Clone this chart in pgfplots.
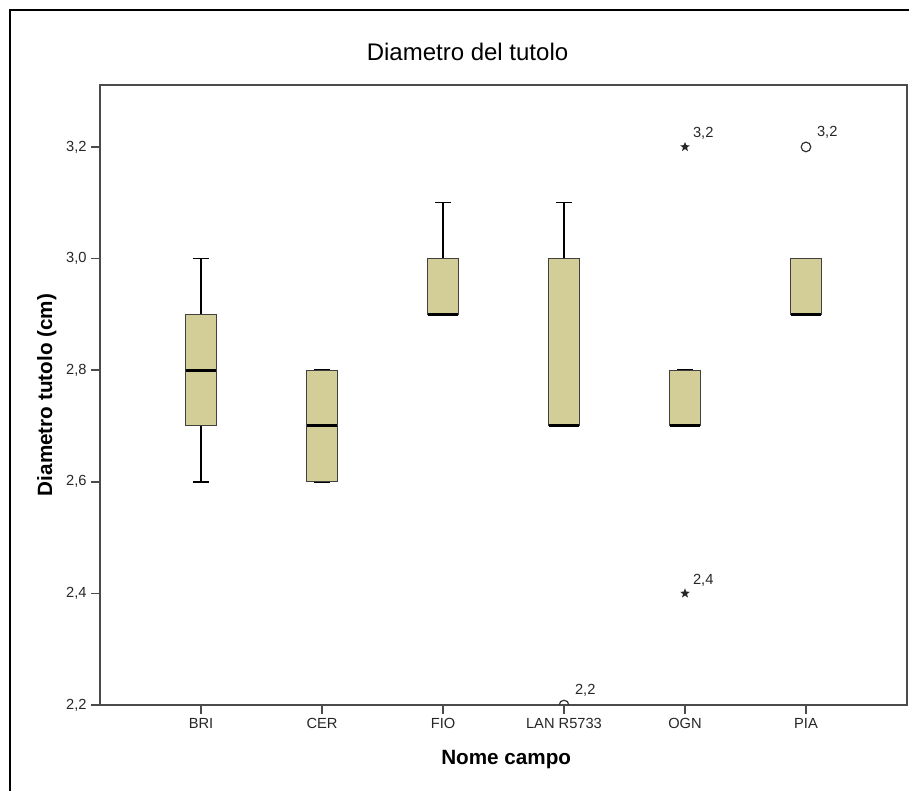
\documentclass[border=0pt]{standalone}
\usepackage{fontspec}
\setmainfont{Liberation Sans}
\usepackage{pgfplots}
\pgfplotsset{compat=1.18}
\usepgfplotslibrary{statistics}

\definecolor{boxfill}{RGB}{211,206,151}
\definecolor{axisgray}{RGB}{75,75,75}

% filled five-pointed star, as SPSS draws extreme values
\pgfdeclareplotmark{fstar}{%
  \pgfpathmoveto{\pgfpointpolar{90}{\pgfplotmarksize}}%
  \pgfpathlineto{\pgfpointpolar{126}{0.42\pgfplotmarksize}}%
  \pgfpathlineto{\pgfpointpolar{162}{\pgfplotmarksize}}%
  \pgfpathlineto{\pgfpointpolar{198}{0.42\pgfplotmarksize}}%
  \pgfpathlineto{\pgfpointpolar{234}{\pgfplotmarksize}}%
  \pgfpathlineto{\pgfpointpolar{270}{0.42\pgfplotmarksize}}%
  \pgfpathlineto{\pgfpointpolar{306}{\pgfplotmarksize}}%
  \pgfpathlineto{\pgfpointpolar{342}{0.42\pgfplotmarksize}}%
  \pgfpathlineto{\pgfpointpolar{18}{\pgfplotmarksize}}%
  \pgfpathlineto{\pgfpointpolar{54}{0.42\pgfplotmarksize}}%
  \pgfpathclose\pgfusepathqfill}

\pgfplotsset{
  spssbox/.style={
    draw=black!75, line width=0.8pt, fill=boxfill,
    boxplot/draw direction=y,
    boxplot/box extend=0.25,
    boxplot/whisker extend=0.125,
    boxplot/every median/.style={black, line width=2.3pt},
    boxplot/every whisker/.style={black, line width=1.1pt},
  },
}

\begin{document}
\begin{tikzpicture}
\path[use as bounding box] (0,0) rectangle (681.75pt,593.25pt);
\draw[line width=1.4pt] (7.5pt,0) -- (7.5pt,585.75pt) -- (681.75pt,585.75pt);
\begin{axis}[
  at={(75pt,64.5pt)}, anchor=south west,
  scale only axis, width=605.25pt, height=465pt,
  xmin=-0.835, xmax=5.835, ymin=2.2, ymax=3.311,
  clip marker paths=true,
  axis line style={axisgray, line width=1.2pt},
  tick style={axisgray, line width=1.2pt},
  tick align=outside, tick pos=left,
  major tick length=6.5pt,
  xtick={0,1,2,3,4,5},
  xticklabels={BRI,CER,FIO,LAN R5733,OGN,PIA},
  ytick={2.2,2.4,2.6,2.8,3.0,3.2},
  yticklabel style={/pgf/number format/.cd, use comma, fixed, fixed zerofill, precision=1, assume math mode=true},
  ticklabel style={font=\fontsize{11}{13}\selectfont, text=black!85},
  title={Diametro del tutolo},
  title style={at={(axis description cs:0.5,1)}, anchor=base, xshift=-27pt, yshift=12pt, font=\fontsize{18}{20}\selectfont},
  xlabel={Nome campo},
  xlabel style={at={(axis description cs:0.5,0)}, anchor=base, xshift=2pt, yshift=-45pt, font=\fontsize{15.5}{17}\selectfont\bfseries},
  ylabel={Diametro tutolo (cm)},
  ylabel style={at={(axis description cs:0,0.5)}, anchor=base, yshift=36pt, font=\fontsize{15.5}{17}\selectfont\bfseries},
]
% BRI
\addplot[spssbox, boxplot prepared={draw position=0,
  lower whisker=2.6, lower quartile=2.7, median=2.8, upper quartile=2.9, upper whisker=3.0}] coordinates {};
% CER
\addplot[spssbox, boxplot prepared={draw position=1,
  lower whisker=2.6, lower quartile=2.6, median=2.7, upper quartile=2.8, upper whisker=2.8}] coordinates {};
% FIO
\addplot[spssbox, boxplot prepared={draw position=2,
  lower whisker=2.9, lower quartile=2.9, median=2.9, upper quartile=3.0, upper whisker=3.1}] coordinates {};
% LAN R5733
\addplot[spssbox, boxplot prepared={draw position=3,
  lower whisker=2.7, lower quartile=2.7, median=2.7, upper quartile=3.0, upper whisker=3.1}] coordinates {};
% OGN
\addplot[spssbox, boxplot prepared={draw position=4,
  lower whisker=2.7, lower quartile=2.7, median=2.7, upper quartile=2.8, upper whisker=2.8}] coordinates {};
% PIA
\addplot[spssbox, boxplot prepared={draw position=5,
  lower whisker=2.9, lower quartile=2.9, median=2.9, upper quartile=3.0, upper whisker=3.0}] coordinates {};

% outliers (circles)
\addplot[only marks, mark=o, mark size=3.6pt, mark options={draw=black!80, line width=0.9pt},
  point meta=explicit symbolic, nodes near coords,
  nodes near coords style={anchor=base west, xshift=4.5pt, yshift=7.5pt, font=\fontsize{11}{13}\selectfont, text=black!85}]
  coordinates {(3,2.2) [2,2] (5,3.2) [3,2]};
% extreme values (stars)
\addplot[only marks, mark=fstar, mark size=3.8pt, black!85,
  point meta=explicit symbolic, nodes near coords,
  nodes near coords style={anchor=base west, xshift=2.5pt, yshift=7pt, font=\fontsize{11}{13}\selectfont, text=black!85}]
  coordinates {(4,3.2) [3,2] (4,2.4) [2,4]};
\end{axis}
\end{tikzpicture}
\end{document}
